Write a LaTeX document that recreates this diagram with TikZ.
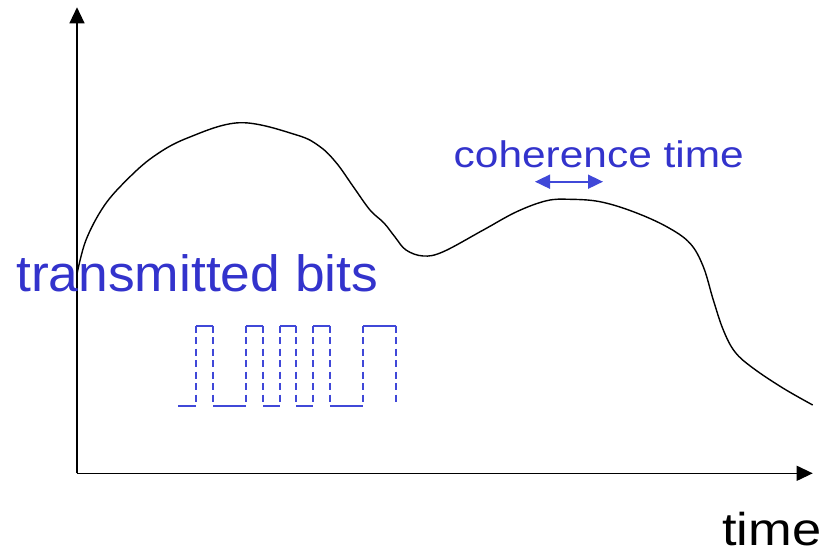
\documentclass[tikz,border=0pt]{standalone}
\usepackage{fontspec}
\setmainfont{Liberation Sans}
\usetikzlibrary{arrows.meta}
\definecolor{txtblue}{RGB}{51,51,204}
\definecolor{wavblue}{RGB}{64,72,216}
\tikzset{
  axis/.style={line width=1.3pt, -{Triangle[length=16pt,width=15pt]}},
  fading/.style={line width=1.4pt, line join=round},
  lbl/.style={inner sep=0pt, anchor=base west},
  bitlevel/.style={wavblue, line width=1.6pt},
  bitedge/.style={wavblue, line width=1.6pt, dash pattern=on 7pt off 4.5pt},
  spanarrow/.style={wavblue, line width=1.7pt, {Triangle[length=15pt,width=14pt]}-{Triangle[length=15pt,width=14pt]}}
}
\begin{document}
\begin{tikzpicture}[x=1pt,y=-1pt]
\useasboundingbox (0,0) rectangle (833,554);
% axes
\coordinate (origin) at (77,473.3);
\coordinate (ytop) at (77,7.3);
\coordinate (xend) at (812.7,473.3);
\draw[axis] (origin) -- (ytop);
\draw[axis] (origin) -- (xend);
% fading curve
\draw[fading] plot[smooth, tension=0.6] coordinates {
 (77,274) (86,240) (104,206) (126.7,180) (153.3,156.7) (186.7,138.3)
 (240,122.7) (296.7,135) (320,146.7) (336.7,163.3)
 (353.3,186.7) (370,210) (384,223) (395,237) (406,250) (423.3,256)
 (443.3,251.7) (483.3,230) (516.7,211.7) (546.7,200.7) (570,199.3) (600,201.7)
 (633.3,211.7) (666.7,226.7) (690,243.3) (703.3,266.7) (713.3,300) (723.3,330)
 (735,352) (753.3,368.3) (783.3,388.3) (812.7,405)};
% transmitted bits waveform
\def\lo{405.7}\def\hi{325.7}
\foreach \a/\b/\y in {178/196/\lo, 196/213/\hi, 213/246/\lo, 246/263/\hi, 263/280/\lo,
  280/296/\hi, 296/313/\lo, 313/330/\hi, 330/363/\lo, 363/396/\hi}
  \draw[bitlevel] (\a,\y) -- (\b,\y);
\foreach \x in {196,213,246,263,280,296,313,330,363,396}
  \draw[bitedge] (\x,\hi) -- (\x,\lo);
% labels
\node[lbl, txtblue] (tb) at (16,291.7) {\scalebox{1.047}[1]{\fontsize{51}{51}\selectfont transmitted bits}};
\node[lbl, txtblue] (ct) at (453.5,167.7) {\scalebox{1.147}[1]{\fontsize{37}{37}\selectfont coherence time}};
\node[lbl] (tm) at (722,545) {\scalebox{1.14}[1]{\fontsize{46}{46}\selectfont time}};
% coherence arrow
\coordinate (ca) at (535,181.7);
\coordinate (cb) at (603,181.7);
\draw[spanarrow] (ca) -- (cb);
\end{tikzpicture}
\end{document}
